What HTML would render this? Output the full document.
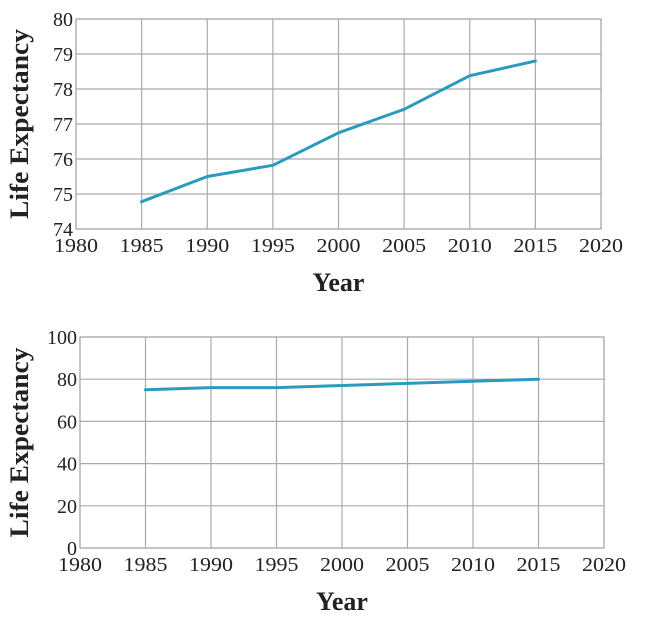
<!DOCTYPE html>
<html><head><meta charset="utf-8"><style>
html,body{margin:0;padding:0;background:#fff;}
svg{display:block;font-family:"Liberation Serif",serif;}
</style></head><body>
<svg id="svg" width="650" height="620" viewBox="0 0 650 620"></svg>
<script>
const years = [1985, 1990, 1995, 2000, 2005, 2010, 2015];
const topValues = [74.78, 75.5, 75.82, 76.75, 77.42, 78.38, 78.8];
const bottomValues = [75, 76, 76, 77, 78, 79, 80];
const xTicks = [1980, 1985, 1990, 1995, 2000, 2005, 2010, 2015, 2020];
const topYTicks = [74, 75, 76, 77, 78, 79, 80];
const bottomYTicks = [0, 20, 40, 60, 80, 100];

const NS = "http://www.w3.org/2000/svg";
const svg = document.getElementById('svg');
function mk(tag, attrs, parent){const e=document.createElementNS(NS,tag);for(const k in attrs)e.setAttribute(k,attrs[k]);(parent||svg).appendChild(e);return e;}

function drawChart(prefix, L, R, T, B, yMin, yMax, yTicks, values){
  const g = mk('g',{});
  
  
  const xs = v => L + (v-1980)/(2020-1980)*(R-L);
  const ys = v => B - (v-yMin)/(yMax-yMin)*(B-T);
  mk('rect',{x:L,y:T,width:R-L,height:B-T,fill:'#fff',stroke:'#aaa','stroke-width':1.2},g);
  xTicks.forEach(t=>{
    const l=mk('line',{x1:xs(t),x2:xs(t),y1:T,y2:B,stroke:'#aaa','stroke-width':1.2},g);
    
    
    const tx=mk('text',{x:xs(t),y:B+23,'text-anchor':'middle','font-size':20,fill:'#222','textLength':44,'lengthAdjust':'spacingAndGlyphs'},g);
    tx.textContent=t;
    
    
  });
  yTicks.forEach(t=>{
    const l=mk('line',{x1:L,x2:R,y1:ys(t),y2:ys(t),stroke:'#aaa','stroke-width':1.2},g);
    
    
    const tx=mk('text',{x:L-3,y:ys(t)+7,'text-anchor':'end','font-size':20,fill:'#222'},g);
    tx.textContent=t;
    
    
  });
  const pts = years.map((y,i)=>xs(y).toFixed(1)+','+ys(values[i]).toFixed(1)).join(' ');
  const line = mk('polyline',{points:pts,fill:'none',stroke:'#2a9bbf','stroke-width':3,'stroke-linejoin':'round','stroke-linecap':'round'},g);
  
  
  const xt = mk('text',{x:(L+R)/2,y:B+62,'text-anchor':'middle','font-size':26,'font-weight':'bold',fill:'#222'},g);
  xt.textContent='Year';
  
  
  const yt = mk('text',{x:0,y:0,'text-anchor':'middle','font-size':26,'font-weight':'bold',fill:'#222','textLength':190,'lengthAdjust':'spacingAndGlyphs',transform:`translate(28,${(T+B)/2}) rotate(-90)`},g);
  yt.textContent='Life Expectancy';
  
  
}
drawChart('top', 76, 601, 19, 229, 74, 80, topYTicks, topValues);
drawChart('bottom', 80, 604, 337, 548, 0, 100, bottomYTicks, bottomValues);
</script>
</body></html>
